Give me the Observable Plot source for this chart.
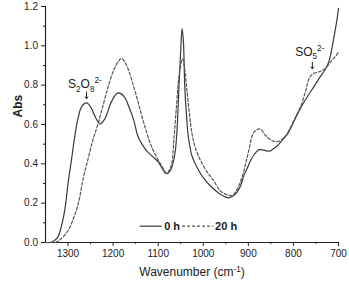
<!DOCTYPE html>
<html>
<head>
<meta charset="utf-8">
<script src="https://cdn.jsdelivr.net/npm/d3@7"></script>
<script src="https://cdn.jsdelivr.net/npm/@observablehq/plot@0.6"></script>
<style>
  html, body { margin: 0; padding: 0; background: #fff; }
</style>
</head>
<body>
<div id="chart"></div>
<script>
// Wavenumber (cm-1) and absorbance
const wave0h = [1350,1340,1330,1322,1315,1310,1305,1300,1293,1285,1278,1270,1259,1250,1240,1229,1218,1205,1193,1186,1175,1165,1154,1145,1136,1125,1111,1100,1092,1085,1080,1072,1063,1058,1054,1050,1047,1044,1041,1037,1033,1025,1014,1000,985,963,944,935,925,917,910,902,895,886,877,866,854,845,835,825,813,798,783,768,753,740,734,727,720,712,705,700];
const abs0h  = [0.0,0.0,0.01,0.03,0.08,0.13,0.2,0.3,0.41,0.54,0.63,0.69,0.71,0.69,0.64,0.603,0.63,0.71,0.755,0.761,0.74,0.69,0.62,0.54,0.5,0.465,0.434,0.41,0.38,0.355,0.35,0.37,0.45,0.58,0.79,0.98,1.087,1.02,0.79,0.64,0.535,0.44,0.383,0.33,0.29,0.247,0.227,0.235,0.256,0.29,0.34,0.38,0.417,0.45,0.471,0.47,0.464,0.475,0.493,0.52,0.552,0.62,0.688,0.745,0.798,0.845,0.864,0.89,0.93,1.02,1.11,1.19];

const wave20h = [1350,1335,1328,1315,1300,1290,1277,1266,1255,1245,1234,1222,1210,1198,1187,1181,1170,1154,1143,1131,1120,1111,1100,1092,1081,1075,1070,1065,1059,1053,1046,1041,1037,1031,1025,1016,1006,992,977,963,950,936,925,914,906,899,888,874,864,854,843,832,820,810,797,783,773,764,755,746,736,727,718,709,700];
const abs20h  = [0.0,0.0,0.0,0.02,0.06,0.11,0.2,0.33,0.43,0.52,0.6,0.7,0.8,0.88,0.925,0.935,0.9,0.79,0.7,0.6,0.52,0.468,0.42,0.39,0.352,0.37,0.4,0.53,0.705,0.86,0.934,0.88,0.79,0.66,0.553,0.47,0.417,0.36,0.315,0.264,0.245,0.239,0.27,0.332,0.4,0.468,0.56,0.578,0.55,0.527,0.515,0.515,0.535,0.569,0.63,0.697,0.77,0.84,0.86,0.866,0.875,0.89,0.917,0.94,0.967];

const xTicks = [1300,1200,1100,1000,900,800,700];
const xMinor = [1250,1150,1050,950,850,750];
const yTicks = [0.0,0.2,0.4,0.6,0.8,1.0,1.2];
const yMinor = [0.1,0.3,0.5,0.7,0.9,1.1];

// annotation / legend entries (in data units)
const annoLabels = [{w:1300, a:0.805, t:"S2O8^2-"},{w:796, a:0.970, t:"SO5^2-"}];
const annoArrows = [{w:1259, a1:0.766, a2:0.731},{w:758, a1:0.917, a2:0.883}];
const legendLines = [{w1:1141, w2:1092, a:0.083, dash:null},{w1:1047, w2:978, a:0.083, dash:"3,2"}];
const legendText = [{w:1089, a:0.083, t:"0 h"},{w:976, a:0.083, t:"20 h"}];

const solid = wave0h.map((w,i)=>({w, a:abs0h[i]}));
const dashed = wave20h.map((w,i)=>({w, a:abs20h[i]}));

const ink = "#222";
const chart = Plot.plot({
  width: 349, height: 283,
  marginLeft: 45, marginRight: 11, marginTop: 6, marginBottom: 41,
  x: {domain: [1350, 700]},
  y: {domain: [0, 1.2]},
  style: {fontFamily: "'Liberation Sans', Arial, sans-serif", fontSize: "10px", color: ink, background: "#fff"},
  marks: [
    Plot.axisX({ticks: xTicks, tickSize: 4, tickPadding: 3.5, tickFormat: "d", label: null, fontSize: 10, stroke: ink}),
    Plot.axisX({ticks: xMinor, tickSize: 2, text: null, label: null, stroke: ink}),
    Plot.axisY({ticks: yTicks, tickSize: 4, tickPadding: 3.5, tickFormat: ".1f", label: null, fontSize: 10, stroke: ink}),
    Plot.axisY({ticks: yMinor, tickSize: 2, text: null, label: null, stroke: ink}),
    Plot.ruleX([1350], {stroke: ink, strokeWidth: 1.2}),
    Plot.ruleY([0], {stroke: ink, strokeWidth: 1.2}),
    Plot.line(solid, {x: "w", y: "a", stroke: "#3a3a3a", strokeWidth: 1.2, curve: "catmull-rom"}),
    Plot.line(dashed, {x: "w", y: "a", stroke: "#555", strokeWidth: 1.2, strokeDasharray: "3,2", curve: "catmull-rom"}),
    Plot.arrow(annoArrows, {x1: "w", x2: "w", y1: "a1", y2: "a2", stroke: ink, strokeWidth: 1, headLength: 4, headAngle: 70}),
    Plot.text(annoLabels, {x: "w", y: "a", text: "t", textAnchor: "start", lineAnchor: "middle", fontSize: 12, fill: ink}),
    Plot.link(legendLines.filter(d=>!d.dash), {x1: "w1", x2: "w2", y1: "a", y2: "a", stroke: "#3a3a3a", strokeWidth: 1.2}),
    Plot.link(legendLines.filter(d=>d.dash), {x1: "w1", x2: "w2", y1: "a", y2: "a", stroke: "#555", strokeWidth: 1.2, strokeDasharray: "3,2"}),
    Plot.text(legendText, {x: "w", y: "a", text: "t", textAnchor: "start", lineAnchor: "middle", fontSize: 11, fontWeight: "bold", fill: ink, dx: 1}),
    Plot.text(["Wavenumber (cm^-1)"], {frameAnchor: "bottom", dy: 30, lineAnchor: "middle", fontSize: 12, fill: ink}),
    Plot.text(["Abs"], {frameAnchor: "left", dx: -27, dy: -7, rotate: -90, lineAnchor: "middle", fontSize: 12, fontWeight: "bold", fill: ink})
  ]
});

// rebuild texts with sub/superscripts
const parts = {
  "S2O8^2-": [["S",0],["2",1],["O",0],["8",1],["2-",2]],
  "SO5^2-": [["SO",0],["5",1],["2-",2]],
  "Wavenumber (cm^-1)": [["Wavenumber (cm",0],["-1",2],[")",0]]
};
d3.select(chart).selectAll("text").each(function() {
  const el = d3.select(this);
  const key = el.text();
  if (!parts[key]) return;
  const fs = parseFloat(el.attr("font-size")) || 12;
  el.text("");
  let cur = 0;
  for (const [s, kind] of parts[key]) {
    const target = kind === 1 ? fs*0.3 : kind === 2 ? -fs*0.4 : 0;
    const sz = kind === 0 ? fs : fs*0.68;
    el.append("tspan").attr("dy", target - cur).attr("font-size", sz).text(s);
    cur = target;
  }
});

document.getElementById("chart").appendChild(chart);
</script>
</body>
</html>
